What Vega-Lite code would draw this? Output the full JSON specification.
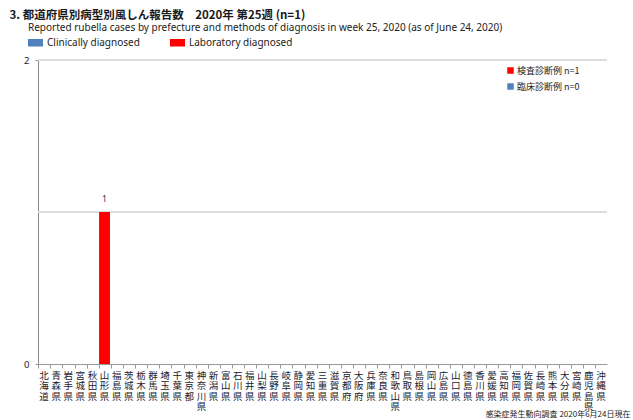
{
  "$schema": "https://vega.github.io/schema/vega-lite/v6.json",
  "autosize": "none",
  "width": 569,
  "height": 304,
  "padding": {"left": 38, "top": 60, "right": 26, "bottom": 56},
  "background": "white",
  "config": {
    "view": {"stroke": null},
    "font": "Noto Sans"
  },
  "title": {
    "text": "3. 都道府県別病型別風しん報告数　2020年 第25週 (n=1)",
    "anchor": "start",
    "dx": -14,
    "offset": 2,
    "fontSize": 11.5,
    "fontWeight": "bold",
    "font": "Noto Sans CJK JP",
    "color": "#1a1a1a"
  },
  "data": {
    "values": [
      {"pref": "北海道", "Clinically diagnosed": 0, "Laboratory diagnosed": 0},
      {"pref": "青森県", "Clinically diagnosed": 0, "Laboratory diagnosed": 0},
      {"pref": "岩手県", "Clinically diagnosed": 0, "Laboratory diagnosed": 0},
      {"pref": "宮城県", "Clinically diagnosed": 0, "Laboratory diagnosed": 0},
      {"pref": "秋田県", "Clinically diagnosed": 0, "Laboratory diagnosed": 0},
      {"pref": "山形県", "Clinically diagnosed": 0, "Laboratory diagnosed": 1},
      {"pref": "福島県", "Clinically diagnosed": 0, "Laboratory diagnosed": 0},
      {"pref": "茨城県", "Clinically diagnosed": 0, "Laboratory diagnosed": 0},
      {"pref": "栃木県", "Clinically diagnosed": 0, "Laboratory diagnosed": 0},
      {"pref": "群馬県", "Clinically diagnosed": 0, "Laboratory diagnosed": 0},
      {"pref": "埼玉県", "Clinically diagnosed": 0, "Laboratory diagnosed": 0},
      {"pref": "千葉県", "Clinically diagnosed": 0, "Laboratory diagnosed": 0},
      {"pref": "東京都", "Clinically diagnosed": 0, "Laboratory diagnosed": 0},
      {"pref": "神奈川県", "Clinically diagnosed": 0, "Laboratory diagnosed": 0},
      {"pref": "新潟県", "Clinically diagnosed": 0, "Laboratory diagnosed": 0},
      {"pref": "富山県", "Clinically diagnosed": 0, "Laboratory diagnosed": 0},
      {"pref": "石川県", "Clinically diagnosed": 0, "Laboratory diagnosed": 0},
      {"pref": "福井県", "Clinically diagnosed": 0, "Laboratory diagnosed": 0},
      {"pref": "山梨県", "Clinically diagnosed": 0, "Laboratory diagnosed": 0},
      {"pref": "長野県", "Clinically diagnosed": 0, "Laboratory diagnosed": 0},
      {"pref": "岐阜県", "Clinically diagnosed": 0, "Laboratory diagnosed": 0},
      {"pref": "静岡県", "Clinically diagnosed": 0, "Laboratory diagnosed": 0},
      {"pref": "愛知県", "Clinically diagnosed": 0, "Laboratory diagnosed": 0},
      {"pref": "三重県", "Clinically diagnosed": 0, "Laboratory diagnosed": 0},
      {"pref": "滋賀県", "Clinically diagnosed": 0, "Laboratory diagnosed": 0},
      {"pref": "京都府", "Clinically diagnosed": 0, "Laboratory diagnosed": 0},
      {"pref": "大阪府", "Clinically diagnosed": 0, "Laboratory diagnosed": 0},
      {"pref": "兵庫県", "Clinically diagnosed": 0, "Laboratory diagnosed": 0},
      {"pref": "奈良県", "Clinically diagnosed": 0, "Laboratory diagnosed": 0},
      {"pref": "和歌山県", "Clinically diagnosed": 0, "Laboratory diagnosed": 0},
      {"pref": "鳥取県", "Clinically diagnosed": 0, "Laboratory diagnosed": 0},
      {"pref": "島根県", "Clinically diagnosed": 0, "Laboratory diagnosed": 0},
      {"pref": "岡山県", "Clinically diagnosed": 0, "Laboratory diagnosed": 0},
      {"pref": "広島県", "Clinically diagnosed": 0, "Laboratory diagnosed": 0},
      {"pref": "山口県", "Clinically diagnosed": 0, "Laboratory diagnosed": 0},
      {"pref": "徳島県", "Clinically diagnosed": 0, "Laboratory diagnosed": 0},
      {"pref": "香川県", "Clinically diagnosed": 0, "Laboratory diagnosed": 0},
      {"pref": "愛媛県", "Clinically diagnosed": 0, "Laboratory diagnosed": 0},
      {"pref": "高知県", "Clinically diagnosed": 0, "Laboratory diagnosed": 0},
      {"pref": "福岡県", "Clinically diagnosed": 0, "Laboratory diagnosed": 0},
      {"pref": "佐賀県", "Clinically diagnosed": 0, "Laboratory diagnosed": 0},
      {"pref": "長崎県", "Clinically diagnosed": 0, "Laboratory diagnosed": 0},
      {"pref": "熊本県", "Clinically diagnosed": 0, "Laboratory diagnosed": 0},
      {"pref": "大分県", "Clinically diagnosed": 0, "Laboratory diagnosed": 0},
      {"pref": "宮崎県", "Clinically diagnosed": 0, "Laboratory diagnosed": 0},
      {"pref": "鹿児島県", "Clinically diagnosed": 0, "Laboratory diagnosed": 0},
      {"pref": "沖縄県", "Clinically diagnosed": 0, "Laboratory diagnosed": 0}
    ]
  },
  "transform": [
    {"fold": ["Clinically diagnosed", "Laboratory diagnosed"], "as": ["type", "value"]}
  ],
  "encoding": {
    "x": {
      "field": "pref",
      "type": "nominal",
      "sort": null,
      "scale": {"paddingInner": 0.12, "paddingOuter": 0.06},
      "axis": {
        "title": "感染症発生動向調査 2020年6月24日現在",
        "titleFont": "Noto Sans CJK JP",
        "titleFontSize": 8,
        "titleFontWeight": "normal",
        "titleColor": "#222",
        "titleAnchor": "end",
        "titleAlign": "right",
        "titleBaseline": "middle",
        "titleX": 592,
        "titleY": 50,
        "labelExpr": "split(datum.label, '')",
        "labelAngle": 0,
        "labelAlign": "center",
        "labelBaseline": "top",
        "labelFont": "Noto Sans CJK JP",
        "labelFontSize": 9.5,
        "labelLineHeight": 10.5,
        "labelColor": "#1a1a2e",
        "labelPadding": 2,
        "labelOverlap": false,
        "bandPosition": 0,
        "tickSize": 4,
        "tickColor": "#999",
        "domainColor": "#999",
        "grid": false
      }
    },
    "y": {
      "field": "value",
      "type": "quantitative",
      "scale": {"domain": [0, 2]},
      "axis": {
        "title": null,
        "values": [0, 1, 2],
        "format": "d",
        "grid": false,
        "labelFontSize": 9.5,
        "labelColor": "#1a1a2e",
        "labelPadding": 6,
        "tickSize": 3,
        "tickColor": "#999",
        "domainColor": "#888"
      }
    }
  },
  "layer": [
    {
      "mark": {"type": "rule", "color": "#dcdcdc", "strokeWidth": 2},
      "encoding": {"x": {"value": 0}, "x2": {"value": 569}, "y": {"datum": 1}}
    },
    {
      "mark": {"type": "rule", "color": "#dcdcdc", "strokeWidth": 2},
      "encoding": {"x": {"value": 0}, "x2": {"value": 569}, "y": {"datum": 2}}
    },
    {
      "mark": {"type": "bar"},
      "encoding": {
        "y": {"field": "value", "type": "quantitative", "stack": "zero"},
        "color": {
          "field": "type",
          "type": "nominal",
          "scale": {"domain": ["Clinically diagnosed", "Laboratory diagnosed"], "range": ["#4f81bd", "#ff0000"]},
          "legend": {
            "title": "Reported rubella cases by prefecture and methods of diagnosis in week 25, 2020 (as of June 24, 2020)",
            "orient": "none",
            "direction": "horizontal",
            "legendX": -10,
            "legendY": -37,
            "titleOrient": "top",
            "titleFontSize": 10,
            "titleFontWeight": "normal",
            "titleColor": "#222",
            "titlePadding": 2,
            "titleLimit": 700,
            "labelFontSize": 10,
            "labelColor": "#222",
            "labelOffset": 4,
            "columnPadding": 30,
            "symbolType": "M-1,-0.5H1V0.5H-1Z",
            "symbolSize": 225,
            "symbolStrokeWidth": 0,
            "symbolOpacity": 1
          }
        }
      }
    },
    {
      "mark": {"type": "bar"},
      "encoding": {
        "y": {"field": "value", "type": "quantitative", "stack": "zero"},
        "fill": {
          "field": "type",
          "type": "nominal",
          "scale": {"domain": ["Laboratory diagnosed", "Clinically diagnosed"], "range": ["#ff0000", "#4f81bd"]},
          "legend": {
            "title": null,
            "orient": "none",
            "legendX": 468,
            "legendY": 6,
            "labelExpr": "datum.label == 'Laboratory diagnosed' ? '検査診断例 n=1' : '臨床診断例 n=0'",
            "labelFont": "Noto Sans CJK JP",
            "labelFontSize": 9,
            "labelColor": "#222",
            "labelOffset": 2,
            "rowPadding": 6,
            "symbolType": "square",
            "symbolSize": 42,
            "symbolStrokeWidth": 0,
            "symbolOpacity": 1
          }
        }
      }
    },
    {
      "transform": [{"filter": "datum.value > 0"}],
      "mark": {"type": "text", "dy": -12, "fontSize": 8, "color": "#1a1a2e"},
      "encoding": {
        "text": {"field": "value", "type": "quantitative"}
      }
    }
  ]
}
